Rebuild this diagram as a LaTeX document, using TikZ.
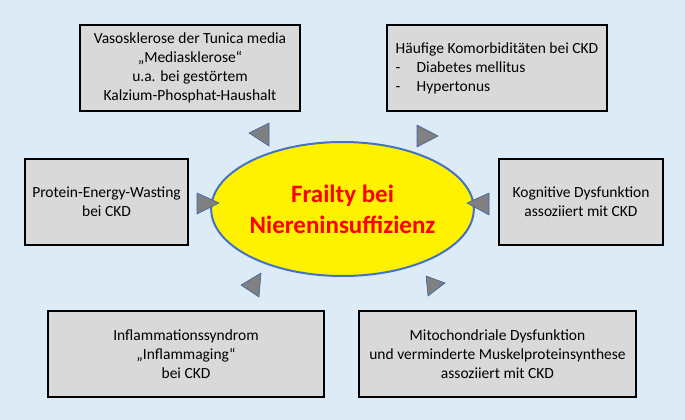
\documentclass[tikz,border=0pt]{standalone}
\usepackage{fontspec}
\setmainfont{Carlito}
\usetikzlibrary{shapes.geometric, shadows}
\tikzset{>=stealth}
\definecolor{bgblue}{HTML}{DDEBF7}
\definecolor{boxgray}{HTML}{D9D9D9}
\definecolor{tipgray}{HTML}{808080}
\definecolor{rimblue}{HTML}{4472C4}
\tikzset{
  infobox/.style={draw=black, line width=2pt, fill=boxgray, align=center, inner sep=0pt,
    minimum height=86pt, font=\fontsize{15.5}{19}\selectfont,
    drop shadow={shadow xshift=1.2pt, shadow yshift=-1.2pt, fill=black!25, opacity=1}},
  tip/.style={fill=tipgray, draw=rimblue!85!black, line width=0.6pt, line join=round},
}
\begin{document}
\begin{tikzpicture}[x=1pt, y=-1pt]
\fill[bgblue] (0,0) rectangle (685,420);
\useasboundingbox (0,0) rectangle (685,420);
\node[ellipse, draw=rimblue, line width=2pt, fill=yellow, minimum width=239pt, minimum height=134pt,
  inner sep=0pt, align=center, text=red, font=\fontsize{25}{31}\selectfont\bfseries] (frailty) at (342.5,209)
  {Frailty bei\\Niereninsuffizienz};
\node[infobox, minimum width=220pt] (media) at (190,68)
  {Vasosklerose der Tunica media\\„Mediasklerose“\\u.a. bei gestörtem\\Kalzium-Phosphat-Haushalt};
\node[infobox, minimum width=220pt, align=left] (komorb) at (497,68)
  {Häufige Komorbiditäten bei CKD\\\makebox[21pt][l]{-}Diabetes mellitus\\\makebox[21pt][l]{-}Hypertonus};
\node[infobox, minimum width=163pt] (pew) at (106.5,202) {Protein-Energy-Wasting\\bei CKD};
\node[infobox, minimum width=164pt] (kogn) at (581,202) {Kognitive Dysfunktion\\assoziiert mit CKD};
\node[infobox, minimum width=276pt] (inflam) at (186,354)
  {Inflammationssyndrom\\„Inflammaging“\\bei CKD};
\node[infobox, minimum width=277pt] (mito) at (497.5,354)
  {Mitochondriale Dysfunktion\\und verminderte Muskelproteinsynthese\\assoziiert mit CKD};
\filldraw[tip] (249,133) -- (269,123) -- (269,146) -- cycle;
\filldraw[tip] (417,125) -- (438,136) -- (417,147) -- cycle;
\filldraw[tip] (197,193) -- (219,203) -- (197,214) -- cycle;
\filldraw[tip] (489,193) -- (467,203) -- (489,215) -- cycle;
\filldraw[tip] (241,285) -- (261,273) -- (259,297) -- cycle;
\filldraw[tip] (426,276) -- (445,283) -- (428,296) -- cycle;
\end{tikzpicture}
\end{document}
